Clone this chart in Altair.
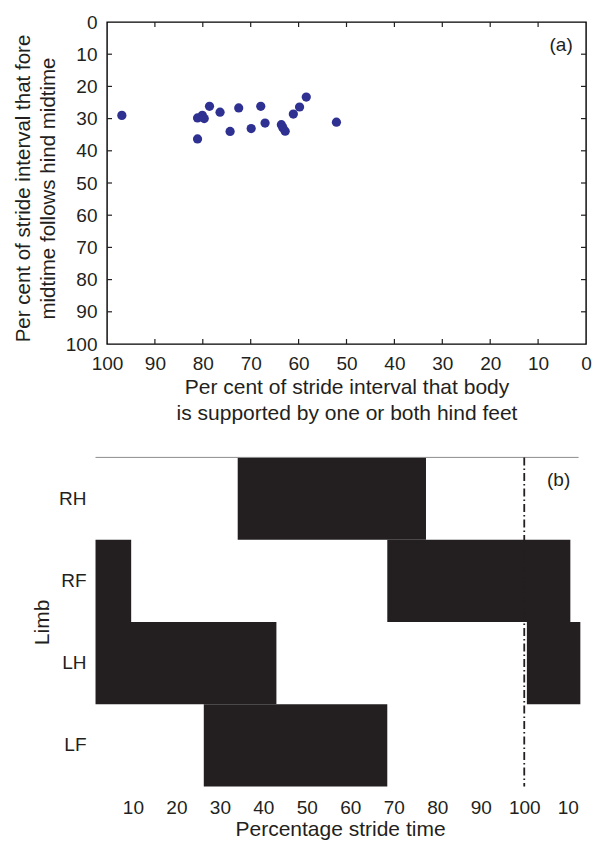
import altair as alt
import pandas as pd

# ---------------- Panel (a) data ----------------
support_pct = [96.9, 81.1, 80.1, 79.7, 78.6, 76.4, 81.1, 74.3, 72.5, 69.9,
               67.9, 67.0, 63.6, 63.3, 62.8, 61.1, 59.8, 58.4, 52.1]
fore_follow_pct = [29.0, 29.8, 29.0, 30.0, 26.2, 28.0, 36.3, 34.0, 26.7, 33.1,
                   26.2, 31.4, 31.9, 32.8, 33.9, 28.6, 26.4, 23.3, 31.1]
a_ticks = [0, 10, 20, 30, 40, 50, 60, 70, 80, 90, 100]
a_inner_ticks = [10, 20, 30, 40, 50, 60, 70, 80, 90]

# ---------------- Panel (b) data ----------------
limb_order = ["RH", "RF", "LH", "LF"]
bar_limb = ["RH", "RF", "RF", "LH", "LH", "LF"]
bar_start = [34.1, 1.4, 68.5, 1.4, 100.6, 26.3]
bar_end = [77.4, 9.6, 110.6, 43.0, 112.9, 68.5]
b_ticks = [10, 20, 30, 40, 50, 60, 70, 80, 90, 100, 110]
cycle_end = [100]
frame_top = [1.4, 112.5]

FONT = "Liberation Sans"
INK = "#231F20"
W = 479
HA = 322
HB = 329

# ---------------- Panel (a) ----------------
df_a = pd.DataFrame({"support": support_pct, "fore": fore_follow_pct})
xa = alt.Scale(domain=[0, 100], reverse=True, nice=False, zero=False)
ya = alt.Scale(domain=[0, 100], reverse=True, nice=False, zero=False)
ax_xa = alt.Axis(values=a_ticks, ticks=False, tickSize=0, domain=False, grid=False,
                 labelPadding=10, labelFontSize=19, labelFlush=False,
                 title=["Per cent of stride interval that body",
                        "is supported by one or both hind feet"],
                 titleFontSize=21, titlePadding=3, titleLineHeight=26)
ax_ya = alt.Axis(values=a_ticks, ticks=False, tickSize=0, domain=False, grid=False,
                 labelPadding=10, labelFontSize=19, labelFlush=False,
                 title=["Per cent of stride interval that fore",
                        "midtime follows hind midtime"],
                 titleFontSize=20.5, titlePadding=7, titleLineHeight=25,
                 titleAnchor="middle", titleY=166)

TLX = 5 / (W / 100.0)
TLY = 5 / (HA / 100.0)
rows = []
for v in a_inner_ticks:
    rows.append({"support": v, "support2": v, "fore": 100, "fore2": 100 - TLY})
    rows.append({"support": v, "support2": v, "fore": 0, "fore2": TLY})
    rows.append({"support": 100, "support2": 100 - TLX, "fore": v, "fore2": v})
    rows.append({"support": 0, "support2": TLX, "fore": v, "fore2": v})
df_ticks = pd.DataFrame(rows)

points = alt.Chart(df_a).mark_circle(size=85, color="#2E3192", opacity=1).encode(
    x=alt.X("support:Q", scale=xa, axis=ax_xa),
    y=alt.Y("fore:Q", scale=ya, axis=ax_ya),
)
ticks = alt.Chart(df_ticks).mark_rule(color=INK, strokeWidth=1.2).encode(
    x=alt.X("support:Q", scale=xa, axis=ax_xa),
    x2="support2:Q",
    y=alt.Y("fore:Q", scale=ya, axis=ax_ya),
    y2="fore2:Q",
)
label_a = alt.Chart(pd.DataFrame({"support": [5.2], "fore": [7.2], "t": ["(a)"]})).mark_text(
    fontSize=19, color=INK, font=FONT, align="center", baseline="middle"
).encode(
    x=alt.X("support:Q", scale=xa, axis=ax_xa),
    y=alt.Y("fore:Q", scale=ya, axis=ax_ya),
    text="t:N",
)
chart_a = alt.layer(points, ticks, label_a).properties(
    width=W, height=HA,
    view=alt.ViewBackground(stroke="black", strokeWidth=1.4),
)

# ---------------- Panel (b) ----------------
df_b = pd.DataFrame({"limb": bar_limb, "start": bar_start, "end": bar_end})
xb = alt.Scale(domain=[4.04, 114.2], nice=False, zero=False)
yb = alt.Scale(domain=limb_order, paddingInner=0, paddingOuter=0)
ax_xb = alt.Axis(values=b_ticks, ticks=False, tickSize=0, domain=False, grid=False,
                 labelPadding=12, labelFontSize=19, labelFlush=False,
                 labelExpr="datum.value > 100 ? datum.value - 100 : datum.value",
                 title="Percentage stride time", titleFontSize=21, titlePadding=1,
                 titleX=233)
ax_yb = alt.Axis(ticks=False, tickSize=0, domain=False, grid=False,
                 labelPadding=21, labelFontSize=19, labelAngle=0,
                 title="Limb", titleFontSize=21, titlePadding=6)

bars = alt.Chart(df_b).mark_bar(color=INK, opacity=1).encode(
    x=alt.X("start:Q", scale=xb, axis=ax_xb),
    x2="end:Q",
    y=alt.Y("limb:N", scale=yb, axis=ax_yb, sort=limb_order),
)
top_line = alt.Chart(pd.DataFrame({"start": [frame_top[0]], "end": [frame_top[1]],
                                   "limb": ["RH"]})).mark_rule(
    color="#8C8C8C", strokeWidth=1
).encode(
    x=alt.X("start:Q", scale=xb, axis=ax_xb),
    x2="end:Q",
    y=alt.Y("limb:N", scale=yb, axis=ax_yb, sort=limb_order, bandPosition=0),
)
cycle_line = alt.Chart(pd.DataFrame({"start": cycle_end})).mark_rule(
    color=INK, strokeWidth=1.8, strokeDash=[8, 3, 1.5, 3]
).encode(
    x=alt.X("start:Q", scale=xb, axis=ax_xb),
)
label_b = alt.Chart(pd.DataFrame({"start": [107.9], "t": ["(b)"]})).mark_text(
    fontSize=19, color=INK, font=FONT, align="center", baseline="middle"
).encode(
    x=alt.X("start:Q", scale=xb, axis=ax_xb),
    y=alt.value(23),
    text="t:N",
)
chart_b = alt.layer(bars, top_line, cycle_line, label_b).properties(
    width=W, height=HB,
    view=alt.ViewBackground(stroke="transparent"),
)

chart = alt.vconcat(chart_a, chart_b, spacing=31.4).properties(
    padding={"left": 4, "top": 4, "right": 0, "bottom": 0},
).configure(
    font=FONT,
    background="white",
).configure_axis(
    labelFont=FONT, titleFont=FONT, labelColor=INK, titleColor=INK,
    titleFontWeight="normal",
).configure_view(stroke="transparent")

chart.save("out.html", embed_options={"renderer": "svg", "actions": False})
